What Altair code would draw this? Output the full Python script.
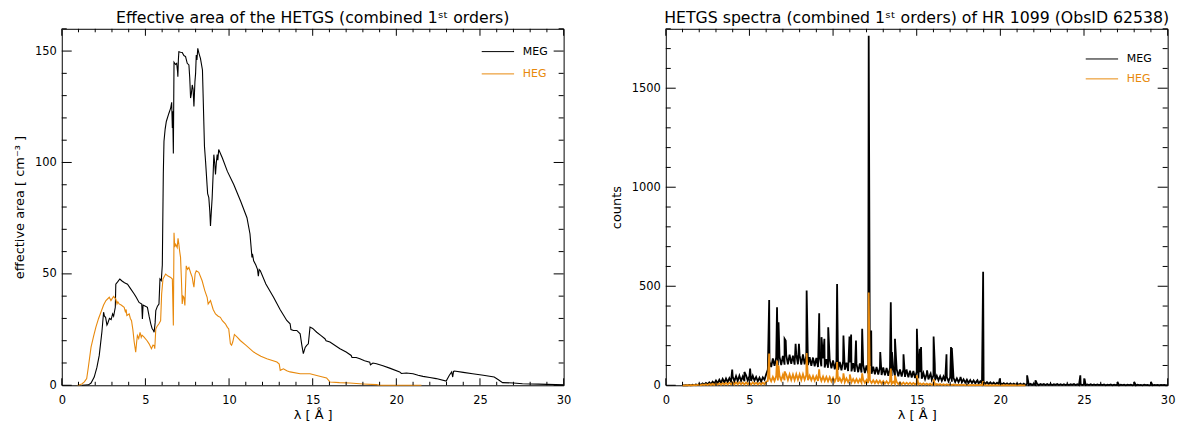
import altair as alt
import numpy as np
import pandas as pd

FONT = "DejaVu Sans"
BLACK = "#000000"
ORANGE = "#e8890c"

# ---------------- effective area (left panel) ----------------
meg_area_lam = [1.20, 1.60, 1.75, 1.94, 2.10, 2.24, 2.40, 2.50, 2.55, 2.62, 2.70, 2.74, 2.85, 2.95, 3.04, 3.10, 3.20, 3.23,
                3.35, 3.47, 3.60, 3.75, 3.93, 4.10, 4.33, 4.45, 4.62, 4.78, 4.82, 4.86, 5.00, 5.12, 5.22, 5.32, 5.40, 5.48,
                5.52, 5.58, 5.62, 5.72, 5.81, 5.87, 5.95, 6.01, 6.07, 6.11, 6.18, 6.25, 6.40, 6.51, 6.57, 6.61, 6.63, 6.67,
                6.71, 6.80, 6.87, 6.92, 6.94, 6.97, 7.00, 7.10, 7.20, 7.30, 7.40, 7.50, 7.60, 7.65, 7.70, 7.75, 7.80, 7.85,
                7.90, 7.96, 8.00, 8.04, 8.08, 8.13, 8.20, 8.29, 8.41, 8.53, 8.60, 8.69, 8.72, 8.79, 8.85, 8.89, 8.94, 8.99,
                9.05, 9.09, 9.14, 9.19, 9.24, 9.29, 9.33, 9.38, 9.60, 9.90, 10.28, 10.70, 11.07, 11.25, 11.37, 11.40, 11.47,
                11.60, 11.70, 11.75, 11.80, 11.87, 12.20, 12.66, 13.05, 13.45, 13.65, 13.70, 13.85, 14.05, 14.25, 14.35,
                14.44, 14.55, 14.64, 14.74, 14.84, 15.00, 15.24, 15.50, 15.73, 15.80, 16.03, 16.63, 17.00, 17.30, 17.35,
                17.60, 17.82, 18.10, 18.41, 18.45, 18.60, 18.81, 19.20, 19.60, 20.20, 20.30, 20.60, 21.00, 21.30, 21.59,
                22.00, 22.38, 22.98, 23.17, 23.31, 23.37, 23.42, 23.47, 24.00, 24.56, 25.20, 25.85, 26.10, 26.35, 27.00,
                27.54, 28.50, 29.52, 30.00]
meg_area_val = [0.0, 0.2, 1.0, 3.7, 8.0, 13.4, 24.0, 32.8, 31.0, 30.5, 27.0, 27.6, 30.0, 29.5, 32.0, 31.0, 35.0, 45.4,
                46.5, 47.7, 46.8, 46.0, 45.4, 43.5, 41.0, 39.5, 37.2, 36.5, 29.8, 36.0, 35.5, 35.0, 31.0, 27.6, 25.5, 24.6,
                23.8, 28.0, 33.5, 35.5, 36.5, 47.7, 47.0, 54.0, 95.0, 109.5, 115.0, 118.4, 122.0, 124.4, 127.0, 115.5, 123.0, 104.0,
                145.0, 144.0, 144.5, 141.0, 138.5, 146.0, 149.7, 149.5, 149.4, 148.0, 147.5, 144.5, 143.8, 138.0, 128.9, 131.0, 134.8, 133.0,
                125.1, 136.3, 140.0, 148.2, 146.0, 151.2, 149.0, 146.7, 141.5, 107.3, 100.0, 89.4, 86.0, 84.2, 78.0, 71.5, 78.0, 84.2,
                95.0, 103.5, 100.0, 94.6, 100.0, 103.5, 101.0, 105.8, 102.0, 96.0, 90.1, 82.5, 75.2, 68.0, 57.4, 59.0, 55.9,
                54.0, 52.0, 49.0, 52.0, 51.4, 45.5, 39.5, 34.0, 29.1, 27.6, 25.0, 24.6, 24.6, 23.1, 18.0,
                14.2, 17.0, 17.9, 18.6, 26.1, 25.5, 23.8, 22.3, 20.9, 20.0, 19.4, 16.4, 14.9, 13.4, 12.5,
                12.5, 11.9, 11.0, 10.4, 9.2, 10.0, 9.7, 8.8, 7.7, 6.0, 5.3, 5.5, 5.2, 4.5, 4.0,
                3.5, 3.0, 1.9, 4.5, 6.0, 3.7, 6.2, 6.4, 5.8, 5.2, 4.5, 3.7, 2.5, 1.2, 1.0,
                0.7, 0.5, 0.3, 0.2]

heg_area_lam = [0.95, 1.20, 1.35, 1.49, 1.59, 1.75, 1.90, 2.04, 2.20, 2.34, 2.50, 2.64, 2.84, 2.94, 3.02, 3.10, 3.23, 3.30,
                3.35, 3.43, 3.55, 3.73, 3.80, 3.85, 3.89, 4.03, 4.10, 4.17, 4.25, 4.33, 4.42, 4.47, 4.52, 4.60, 4.68, 4.75,
                4.80, 4.92, 5.10, 5.22, 5.36, 5.45, 5.52, 5.56, 5.62, 5.70, 5.81, 5.91, 5.97, 6.05, 6.21, 6.35, 6.51, 6.61,
                6.67, 6.71, 6.75, 6.81, 6.90, 6.95, 7.00, 7.05, 7.10, 7.15, 7.20, 7.25, 7.30, 7.36, 7.44, 7.52, 7.60, 7.70,
                7.80, 7.85, 7.90, 7.97, 8.04, 8.19, 8.39, 8.55, 8.69, 8.75, 8.89, 9.05, 9.19, 9.35, 9.48, 9.60, 9.78, 9.90,
                9.98, 10.08, 10.15, 10.22, 10.32, 10.50, 10.67, 11.00, 11.47, 11.90, 12.26, 12.86, 13.00, 13.06, 13.25, 13.45,
                13.65, 14.25, 14.84, 15.30, 15.83, 16.03, 16.60, 17.22, 18.00, 18.81, 19.00, 21.50]
heg_area_val = [0.0, 0.6, 1.5, 3.0, 8.2, 17.1, 22.0, 26.1, 30.0, 32.8, 36.0, 38.0, 39.5, 38.0, 39.0, 39.9, 38.7, 36.5,
                37.5, 36.5, 36.0, 35.0, 33.0, 34.0, 31.3, 32.0, 30.0, 29.0, 25.0, 19.4, 14.9, 19.0, 22.3, 21.0, 23.8, 21.5,
                22.5, 21.6, 20.0, 18.6, 16.4, 18.0, 17.9, 16.4, 25.3, 26.5, 27.6, 29.0, 41.0, 47.7, 49.9, 49.0, 48.4, 47.7,
                26.8, 68.5, 62.0, 63.3, 61.8, 66.0, 63.3, 60.0, 57.4, 48.0, 36.5, 40.0, 39.5, 35.8, 53.6, 52.0, 52.9, 50.5,
                48.4, 46.0, 44.0, 50.0, 51.4, 50.7, 46.9, 42.5, 39.5, 36.5, 38.0, 34.0, 32.0, 31.0, 30.5, 29.0, 27.6, 26.0,
                25.3, 18.6, 18.0, 19.4, 22.8, 21.5, 20.1, 18.0, 14.9, 13.0, 11.9, 10.4, 9.5, 6.7, 7.4, 6.5,
                6.0, 5.2, 5.2, 4.3, 3.3, 1.5, 1.2, 1.0, 0.6, 0.3, 0.0, 0.0]

# ---------------- spectra (right panel) ----------------
# continuum counts in 0.1 Angstrom bins
bin_step = 0.1
meg_start = 1.0
meg_counts = [
    0, 0, 1, 0, 2, 0, 3, 1, 4, 1,
    6, 2, 9, 3, 12, 5, 15, 6, 18, 8,
    24, 10, 28, 12, 32, 14, 34, 16, 36, 18,
    44, 20, 46, 22, 48, 22, 44, 20, 50, 24,
    46, 22, 48, 24, 42, 20, 38, 18, 40, 28,
    55, 80, 120, 92, 135, 98, 140, 100, 144, 102,
    148, 104, 152, 106, 155, 108, 150, 104, 156, 106,
    152, 104, 156, 106, 150, 102, 142, 98, 140, 96,
    138, 92, 142, 96, 136, 90, 132, 88, 128, 86,
    125, 80, 122, 78, 118, 76, 120, 78, 114, 72,
    115, 70, 112, 68, 108, 66, 110, 64, 104, 62,
    100, 60, 98, 58, 94, 56, 92, 54, 90, 52,
    90, 50, 88, 48, 86, 47, 84, 46, 82, 45,
    80, 44, 78, 42, 76, 40, 74, 39, 72, 37,
    70, 35, 66, 33, 62, 31, 58, 30, 54, 28,
    50, 26, 48, 25, 46, 23, 44, 21, 42, 20,
    40, 18, 38, 17, 35, 16, 33, 15, 30, 13,
    28, 12, 26, 11, 24, 10, 22, 9, 20, 8,
    18, 7, 16, 6, 15, 6, 14, 5, 13, 5,
    12, 4, 11, 4, 10, 3, 10, 3, 9, 3,
    9, 3, 8, 2, 8, 2, 8, 2, 7, 2,
    7, 2, 7, 1, 6, 2, 6, 1, 6, 1,
    6, 1, 5, 2, 6, 1, 5, 1, 5, 1,
    5, 1, 5, 2, 6, 1, 5, 1, 5, 1,
    5, 1, 4, 1, 5, 1, 4, 1, 4, 1,
    4, 1, 4, 0, 3, 1, 4, 0, 3, 1,
    3, 0, 3, 1, 3, 0, 3, 1, 3, 0,
    3, 0, 3, 1, 2, 0, 3, 1, 2, 0,
    2, 0, 2, 1, 2, 0, 2, 1, 2, 0,
    1]
heg_start = 1.0
heg_counts = [
    0, 0, 0, 1, 0, 1, 0, 2, 0, 2,
    3, 0, 4, 1, 5, 1, 6, 2, 7, 2,
    9, 3, 10, 3, 11, 4, 12, 4, 13, 4,
    14, 4, 15, 5, 15, 5, 14, 4, 15, 5,
    14, 4, 15, 5, 13, 4, 12, 4, 13, 6,
    18, 22, 38, 20, 42, 22, 46, 24, 48, 25,
    52, 26, 54, 27, 55, 27, 54, 26, 56, 28,
    55, 27, 56, 28, 52, 26, 48, 25, 47, 24,
    45, 22, 46, 22, 44, 21, 42, 20, 41, 19,
    38, 18, 39, 18, 36, 17, 37, 16, 35, 16,
    33, 15, 32, 14, 31, 14, 30, 13, 29, 12,
    27, 11, 26, 11, 25, 10, 24, 10, 23, 9,
    21, 8, 20, 8, 19, 7, 18, 7, 17, 6,
    15, 5, 14, 5, 13, 5, 13, 4, 12, 4,
    11, 4, 10, 3, 10, 3, 9, 3, 8, 2,
    7, 2, 6, 2, 6, 1, 5, 1, 5, 1,
    4, 1, 4, 1, 3, 1, 3, 1, 3, 0,
    3, 0, 2, 1, 2, 0, 2, 1, 2, 0,
    2, 0, 1, 0, 1, 0, 1, 0, 1, 0,
    1, 0, 1, 0, 1, 0, 0, 1, 0, 1,
    0, 0, 1, 0, 0, 0]

# emission lines: wavelength and peak counts
meg_line_lam = [3.97, 4.70, 5.04, 6.18, 6.65, 6.74, 7.10, 7.17, 7.76, 7.96, 8.42, 9.17, 9.31, 9.48, 9.71,
                10.24, 10.62, 10.98, 11.08, 11.37, 11.74, 12.13, 12.28, 12.82, 13.45, 13.52, 13.70, 14.21,
                14.37, 15.01, 15.18, 15.26, 15.62, 15.83, 16.01, 16.08, 16.78, 17.05, 17.10, 17.62, 18.63,
                18.97, 19.97, 21.60, 22.10, 24.78, 25.03, 27.00, 28.00, 29.00]
meg_line_peak = [79, 67, 84, 431, 394, 318, 235, 225, 209, 209, 478, 364, 243, 235, 293,
                 511, 251, 246, 256, 226, 285, 1765, 276, 168, 419, 168, 235, 156,
                 75, 285, 184, 193, 75, 59, 246, 109, 156, 193, 188, 42, 25,
                 573, 34, 50, 25, 50, 34, 17, 17, 17]
heg_line_lam = [6.18, 6.65, 6.74, 7.10, 8.42, 9.17, 10.24, 10.62, 11.0, 11.74, 12.13, 13.45, 13.70, 15.01, 16.01, 18.97]
heg_line_peak = [160, 125, 100, 70, 163, 80, 117, 60, 55, 60, 469, 84, 50, 50, 30, 20]

# ticks
x_major = [0, 5, 10, 15, 20, 25, 30]
x_minor = [v for v in range(0, 31) if v % 5]
area_major = [0, 50, 100, 150]
area_minor = [v for v in range(0, 161, 10) if v % 50]
counts_major = [0, 500, 1000, 1500]
counts_minor = [v for v in range(0, 1801, 100) if v % 500]

W, H = 504, 358


def spectrum(start, counts, line_lam, line_peak):
    lam = np.round(start + bin_step * np.arange(len(counts)), 3)
    df = pd.DataFrame({"lam": np.concatenate([lam, np.array(line_lam)]),
                       "val": np.concatenate([np.array(counts, float), np.array(line_peak, float)])})
    return df.sort_values("lam", kind="stable").reset_index(drop=True)


def legend(x, y, color):
    return alt.Legend(orient="none", legendX=x, legendY=y, title=None, symbolType="stroke",
                      symbolSize=1056, symbolStrokeWidth=1, labelOffset=8, labelColor=color,
                      labelFont=FONT, labelFontSize=11, padding=0)


def panel(title, meg_df, heg_df, ydom, yvals, ymin, ytitle, leg_meg, leg_heg, lw):
    xs = alt.Scale(domain=[0, 30], nice=False, zero=False)
    ys = alt.Scale(domain=ydom, nice=False, zero=False)
    xaxis = alt.Axis(values=x_major, title="λ [ Å ]", labelFlush=False, format="d")
    yaxis = alt.Axis(values=yvals, title=ytitle, format="d")

    def X(f):
        return alt.X(f, scale=xs, axis=xaxis)

    def Y(f):
        return alt.Y(f, scale=ys, axis=yaxis)

    meg = alt.Chart(meg_df).mark_line(strokeWidth=lw).encode(
        x=X("lam:Q"), y=Y("val:Q"),
        stroke=alt.Stroke("meg_label:N", scale=alt.Scale(domain=["MEG"], range=[BLACK]),
                          legend=legend(leg_meg[0], leg_meg[1], BLACK)),
    )
    heg = alt.Chart(heg_df).mark_line(strokeWidth=lw).encode(
        x=X("lam:Q"), y=Y("val:Q"),
        color=alt.Color("heg_label:N", scale=alt.Scale(domain=["HEG"], range=[ORANGE]),
                        legend=legend(leg_heg[0], leg_heg[1], ORANGE)),
    )
    layers = [meg, heg]
    for vals, L in ((x_major, 7), (x_minor, 3.5)):
        base = alt.Chart(pd.DataFrame({"v": vals})).mark_rule(color=BLACK, strokeWidth=1)
        layers.append(base.encode(x=X("v:Q"), y=alt.value(H), y2=alt.value(H - L)))
        layers.append(base.encode(x=X("v:Q"), y=alt.value(0), y2=alt.value(L)))
    for vals, L in ((yvals, 10), (ymin, 5)):
        base = alt.Chart(pd.DataFrame({"v": vals})).mark_rule(color=BLACK, strokeWidth=1)
        layers.append(base.encode(y=Y("v:Q"), x=alt.value(0), x2=alt.value(L)))
        layers.append(base.encode(y=Y("v:Q"), x=alt.value(W), x2=alt.value(W - L)))
    return alt.layer(*layers).properties(
        width=W, height=H,
        title=alt.TitleParams(title, font=FONT, fontSize=15.8, fontWeight="normal", color=BLACK,
                              anchor="middle", frame="group", offset=1.5),
    )


meg_area = pd.DataFrame({"lam": meg_area_lam, "val": meg_area_val, "meg_label": "MEG"})
heg_area = pd.DataFrame({"lam": heg_area_lam, "val": heg_area_val, "heg_label": "HEG"})
meg_spec = spectrum(meg_start, meg_counts, meg_line_lam, meg_line_peak)
meg_spec["meg_label"] = "MEG"
heg_spec = spectrum(heg_start, heg_counts, heg_line_lam, heg_line_peak)
heg_spec["heg_label"] = "HEG"

left = panel("Effective area of the HETGS (combined 1ˢᵗ orders)", meg_area, heg_area,
             [0, 160], area_major, area_minor, "effective area [ cm⁻³ ]", (421, 5.9), (421, 28.3), 1.1)
right = panel("HETGS spectra (combined 1ˢᵗ orders) of HR 1099 (ObsID 62538)", meg_spec, heg_spec,
              [0, 1800], counts_major, counts_minor, "counts", (421, 13.3), (421, 33.3), 1.8)

chart = (
    alt.hconcat(left, right, spacing=102.6, bounds="flush")
    .resolve_scale(color="independent", stroke="independent")
    .resolve_legend(color="independent", stroke="independent")
    .properties(padding={"left": 4, "top": 0, "right": 2, "bottom": 0}, background="white")
    .configure_view(stroke=BLACK, strokeWidth=1)
    .configure_axis(labelFont=FONT, labelFontSize=11.5, labelColor=BLACK, titleFont=FONT,
                    titleFontWeight="normal", titleColor=BLACK, domain=False, ticks=False,
                    tickSize=0, grid=False, labelOverlap=False)
    .configure_axisX(labelPadding=9, titlePadding=3, titleFontSize=13)
    .configure_axisY(labelPadding=5.5, titlePadding=8.2, titleFontSize=13)
)

chart.save("out.html", embed_options={"renderer": "svg", "actions": False})
